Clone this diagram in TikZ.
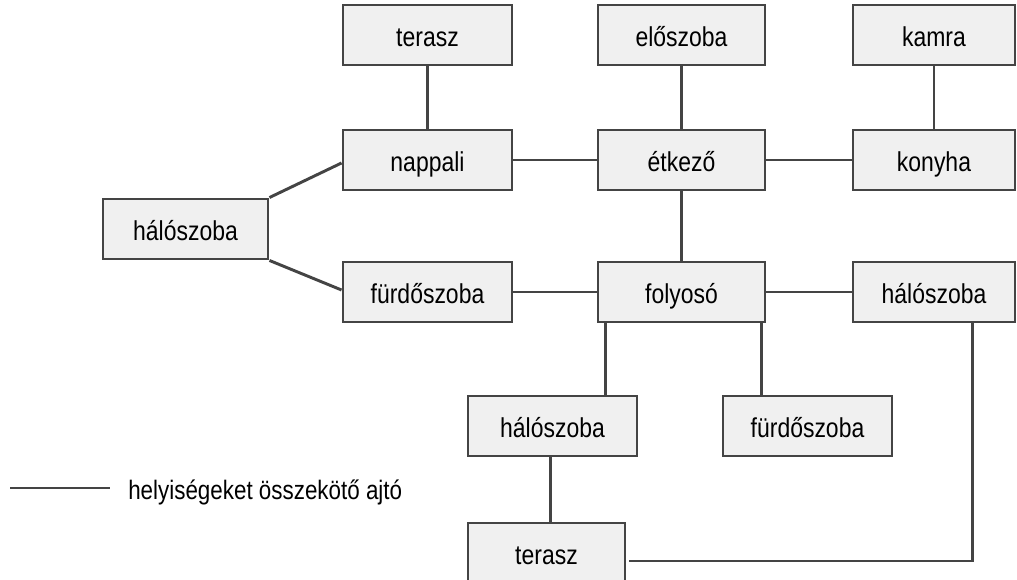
\documentclass[tikz,border=0pt]{standalone}
\usepackage{fontspec}
\setmainfont{Liberation Sans}[FakeStretch=0.84]
\usepackage{tikz}
\usetikzlibrary{calc,positioning}

\definecolor{BoxFill}{HTML}{F0F0F0}
\definecolor{BoxLine}{HTML}{444444}

\begin{document}
\begin{tikzpicture}[x=0.75pt,y=-0.75pt]
  \tikzset{RoomNode/.style = {shape = rectangle, fill = BoxFill, draw = BoxLine, line width = 2.2pt, text = black, minimum width = 126.75pt, minimum height = 45pt, inner sep = 0pt, text height = 17.4pt, text depth = 0pt, font = \fontsize{20.5}{24}\selectfont}};
  \tikzset{DoorStyle/.style = {draw = BoxLine, line width = 2.2pt}};
  \useasboundingbox (0,0) rectangle (1017,580);

  \node[RoomNode] (terasz top) at (427.5,35) {terasz};
  \node[RoomNode, minimum width = 125.25pt] (eloszoba) at (681.5,35) {előszoba};
  \node[RoomNode, minimum width = 121.5pt] (kamra) at (934,35) {kamra};
  \node[RoomNode] (nappali) at (427.5,160) {nappali};
  \node[RoomNode, minimum width = 125.25pt] (etkezo) at (681.5,160) {étkező};
  \node[RoomNode, minimum width = 121.5pt] (konyha) at (934,160) {konyha};
  \node[RoomNode, minimum width = 123.75pt] (halo left) at (185.5,229) {hálószoba};
  \node[RoomNode] (furdo left) at (427.5,292) {fürdőszoba};
  \node[RoomNode, minimum width = 125.25pt] (folyoso) at (681.5,292) {folyosó};
  \node[RoomNode, minimum width = 121.5pt] (halo right) at (934,292) {hálószoba};
  \node[RoomNode] (halo bottom) at (552.5,426) {hálószoba};
  \node[RoomNode] (furdo bottom) at (807.5,426) {fürdőszoba};
  \node[RoomNode, minimum width = 117.75pt] (terasz bottom) at (546.5,553) {terasz};

  % legend
  \coordinate (legend start) at (10,488);
  \coordinate (legend end) at (110,488);
  \node[anchor = west, inner sep = 0pt, text height = 17pt, text depth = 0pt, font = \fontsize{20}{24}\selectfont] (legend text) at (128,488) {helyiségeket összekötő ajtó};

  \draw[DoorStyle] (terasz top) -- (nappali);
  \draw[DoorStyle] (eloszoba) -- (etkezo);
  \draw[DoorStyle] (kamra) -- (konyha);
  \draw[DoorStyle] (nappali) -- (etkezo);
  \draw[DoorStyle] (etkezo) -- (konyha);
  \draw[DoorStyle] (etkezo) -- (folyoso);
  \draw[DoorStyle] (furdo left) -- (folyoso);
  \draw[DoorStyle] (folyoso) -- (halo right);
  \draw[DoorStyle] (halo left.north east) -- ($(nappali.west)+(0,3)$);
  \draw[DoorStyle] (halo left.south east) -- ($(furdo left.west)+(0,-2)$);
  \draw[DoorStyle] ($(folyoso.south west)!0.054!(folyoso.south east)$) coordinate (f1) -- (f1 |- halo bottom.north);
  \draw[DoorStyle] ($(folyoso.south west)!0.97!(folyoso.south east)$) coordinate (f2) -- (f2 |- furdo bottom.north);
  \draw[DoorStyle] ($(halo bottom.south)+(-2,0)$) coordinate (h1) -- (h1 |- terasz bottom.north);
  \draw[DoorStyle] ($(halo right.south west)!0.735!(halo right.south east)$) coordinate (h2) -- (h2 |- 0,561) -- ($(terasz bottom.east)+(3,8)$);
  \draw[DoorStyle] (legend start) -- (legend end);
\end{tikzpicture}
\end{document}
